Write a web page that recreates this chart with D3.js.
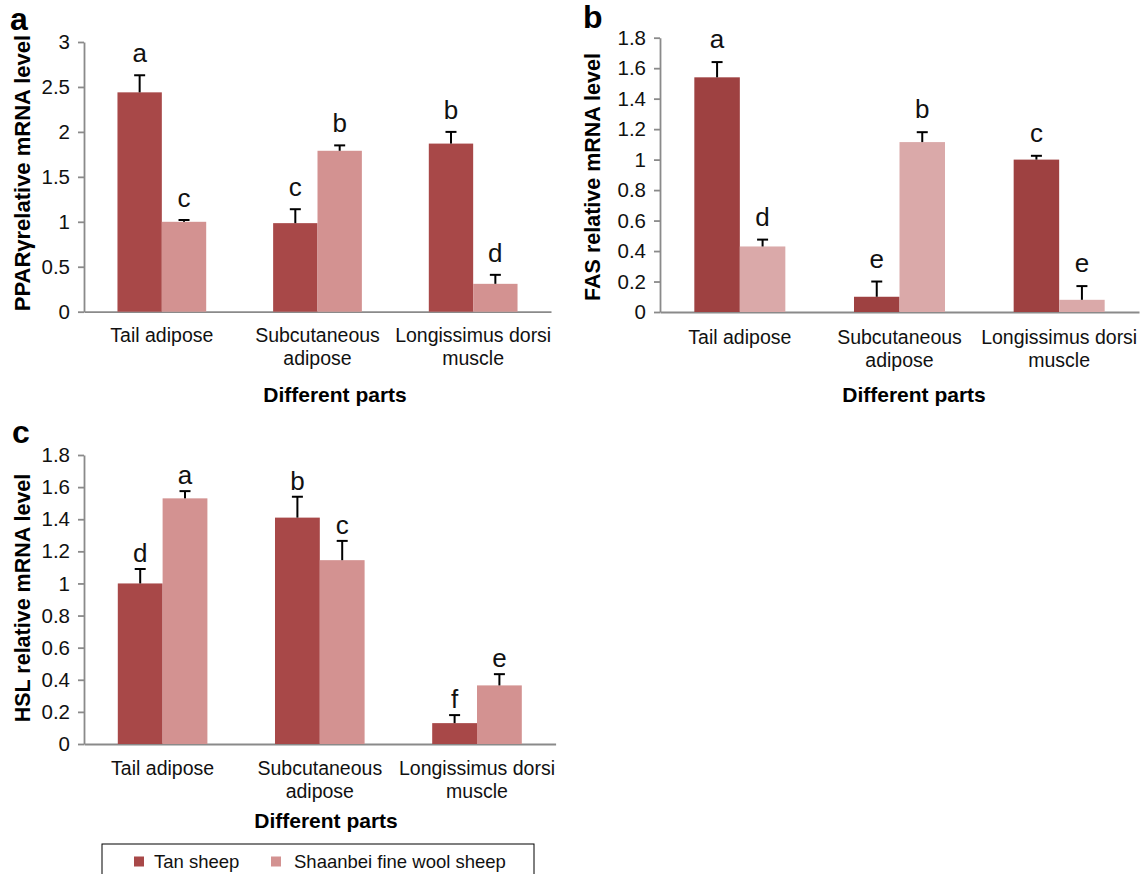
<!DOCTYPE html>
<html>
<head>
<meta charset="utf-8">
<script src="https://cdn.jsdelivr.net/npm/d3@7"></script>
<style>
  body { margin: 0; background: #fff; }
  svg { display: block; font-family: "Liberation Sans", Arial, sans-serif; }
</style>
</head>
<body>
<div id="chart"></div>
<script>
// categories and series
const categories = ["Tail adipose", "Subcutaneous adipose", "Longissimus dorsi muscle"];
const categoryLines = [["Tail adipose"], ["Subcutaneous", "adipose"], ["Longissimus dorsi", "muscle"]];
const series = ["Tan sheep", "Shaanbei fine wool sheep"];

// a: PPARγ
const pparTan = [2.44, 0.985, 1.87];
const pparTanErr = [0.19, 0.155, 0.13];
const pparShaanbei = [1.0, 1.79, 0.31];
const pparShaanbeiErr = [0.02, 0.06, 0.10];
const pparTanLetters = ["a", "c", "b"];
const pparShaanbeiLetters = ["c", "b", "d"];
const pparTicks = [0, 0.5, 1, 1.5, 2, 2.5, 3];

// b: FAS
const fasTan = [1.54, 0.10, 1.0];
const fasTanErr = [0.10, 0.10, 0.025];
const fasShaanbei = [0.43, 1.115, 0.08];
const fasShaanbeiErr = [0.045, 0.065, 0.09];
const fasTanLetters = ["a", "e", "c"];
const fasShaanbeiLetters = ["d", "b", "e"];
const fasTicks = [0, 0.2, 0.4, 0.6, 0.8, 1, 1.2, 1.4, 1.6, 1.8];

// c: HSL
const hslTan = [1.0, 1.41, 0.13];
const hslTanErr = [0.09, 0.13, 0.05];
const hslShaanbei = [1.53, 1.145, 0.365];
const hslShaanbeiErr = [0.045, 0.12, 0.07];
const hslTanLetters = ["d", "b", "f"];
const hslShaanbeiLetters = ["a", "c", "e"];
const hslTicks = [0, 0.2, 0.4, 0.6, 0.8, 1, 1.2, 1.4, 1.6, 1.8];

const width = 1142, height = 874;
const svg = d3.select("#chart").append("svg")
  .attr("width", width)
  .attr("height", height);

function drawPanel(p) {
  const g = svg.append("g");

  const x = d3.scaleBand()
    .domain(categories)
    .range([p.x0, p.x1])
    .paddingInner(0.43)
    .paddingOuter(0.215);
  const xs = d3.scaleBand()
    .domain(series)
    .range([0, x.bandwidth()]);
  const y = d3.scaleLinear()
    .domain([0, d3.max(p.ticks)])
    .range([p.yBot, p.yTop]);

  // y axis
  const yAxis = g.append("g")
    .attr("transform", "translate(" + p.x0 + ",0)")
    .call(d3.axisLeft(y).tickValues(p.ticks).tickSize(6).tickSizeOuter(0)
      .tickPadding(8).tickFormat(d3.format("~g")));
  yAxis.select(".domain").attr("stroke", "#8a8a8a").attr("stroke-width", 1.8);
  yAxis.selectAll(".tick line").attr("stroke", "#8a8a8a").attr("stroke-width", 1.8);
  yAxis.selectAll(".tick text").attr("font-size", 20.5).attr("fill", "#111")
    .attr("font-family", "Liberation Sans, Arial, sans-serif");

  // x axis
  const xAxis = g.append("g")
    .attr("transform", "translate(0," + p.yBot + ")")
    .call(d3.axisBottom(x).tickSize(0).tickSizeOuter(0).tickFormat(""));
  xAxis.select(".domain").attr("stroke", "#8a8a8a").attr("stroke-width", 1.8);
  xAxis.selectAll(".tick text").remove();
  xAxis.selectAll(".tick").each(function(d, i) {
    const t = d3.select(this).append("text")
      .attr("fill", "#111")
      .attr("font-size", 19.5)
      .attr("text-anchor", "middle")
      .attr("font-family", "Liberation Sans, Arial, sans-serif");
    categoryLines[i].forEach((line, k) => {
      t.append("tspan").attr("x", 0).attr("y", p.catY + k * 23).text(line);
    });
  });

  // x title
  g.append("text")
    .attr("x", p.xTitleX)
    .attr("y", p.xTitleY)
    .attr("text-anchor", "middle")
    .attr("font-size", 21)
    .attr("font-weight", "bold")
    .text("Different parts");

  // y title
  g.append("text")
    .attr("transform", "translate(" + p.yTitleX + "," + p.yTitleY + ") rotate(-90)")
    .attr("text-anchor", "middle")
    .attr("font-size", p.yTitleSize)
    .attr("font-weight", "bold")
    .text(p.yTitle);

  // panel letter
  g.append("text")
    .attr("x", p.labelX)
    .attr("y", p.labelY)
    .attr("font-size", 32)
    .attr("font-weight", "bold")
    .text(p.label);

  const rows = [];
  categories.forEach((c, i) => {
    rows.push({ cat: c, s: series[0], v: p.tan[i], e: p.tanErr[i], l: p.tanLetters[i], fill: p.colors[0] });
    rows.push({ cat: c, s: series[1], v: p.sh[i], e: p.shErr[i], l: p.shLetters[i], fill: p.colors[1] });
  });

  g.selectAll(".bar")
    .data(rows)
    .enter()
    .append("rect")
    .attr("x", d => x(d.cat) + xs(d.s))
    .attr("y", d => y(d.v))
    .attr("width", xs.bandwidth())
    .attr("height", d => p.yBot - y(d.v))
    .attr("fill", d => d.fill);

  // error bars (upper only)
  const cx = d => x(d.cat) + xs(d.s) + xs.bandwidth() / 2;
  const eb = g.selectAll(".err").data(rows).enter().append("g");
  eb.append("line")
    .attr("x1", cx).attr("x2", cx)
    .attr("y1", d => y(d.v)).attr("y2", d => y(d.v + d.e))
    .attr("stroke", "#000").attr("stroke-width", 2);
  eb.append("line")
    .attr("x1", d => cx(d) - 5.5).attr("x2", d => cx(d) + 5.5)
    .attr("y1", d => y(d.v + d.e)).attr("y2", d => y(d.v + d.e))
    .attr("stroke", "#000").attr("stroke-width", 2);

  // significance letters
  g.selectAll(".sig").data(rows).enter().append("text")
    .attr("x", cx)
    .attr("y", d => y(d.v + d.e) - p.letterGap)
    .attr("text-anchor", "middle")
    .attr("font-size", 26)
    .attr("fill", "#111")
    .text(d => d.l);
}

drawPanel({
  label: "a", labelX: 10, labelY: 30,
  x0: 84, x1: 551, yTop: 42, yBot: 311.7,
  ticks: pparTicks, yTitle: "PPARγrelative mRNA level", yTitleX: 30, yTitleY: 173, yTitleSize: 22,
  tan: pparTan, tanErr: pparTanErr, sh: pparShaanbei, shErr: pparShaanbeiErr,
  tanLetters: pparTanLetters, shLetters: pparShaanbeiLetters,
  colors: ["#A84848", "#D39291"], letterGap: 13,
  catY: 30, xTitleX: 335, xTitleY: 402
});

drawPanel({
  label: "b", labelX: 583, labelY: 28,
  x0: 660, x1: 1139, yTop: 37.7, yBot: 312,
  ticks: fasTicks, yTitle: "FAS relative mRNA level", yTitleX: 600, yTitleY: 177, yTitleSize: 21.5,
  tan: fasTan, tanErr: fasTanErr, sh: fasShaanbei, shErr: fasShaanbeiErr,
  tanLetters: fasTanLetters, shLetters: fasShaanbeiLetters,
  colors: ["#9E4141", "#DAA9A9"], letterGap: 14,
  catY: 32, xTitleX: 914, xTitleY: 402
});

drawPanel({
  label: "c", labelX: 12, labelY: 443,
  x0: 84, x1: 555.6, yTop: 455, yBot: 744,
  ticks: hslTicks, yTitle: "HSL relative mRNA level", yTitleX: 30, yTitleY: 598, yTitleSize: 21.5,
  tan: hslTan, tanErr: hslTanErr, sh: hslShaanbei, shErr: hslShaanbeiErr,
  tanLetters: hslTanLetters, shLetters: hslShaanbeiLetters,
  colors: ["#A84848", "#D39291"], letterGap: 7,
  catY: 31, xTitleX: 326, xTitleY: 828
});

// legend
const legendColors = ["#A84848", "#D39291"];
const legend = svg.append("g");
legend.append("rect")
  .attr("x", 102).attr("y", 844).attr("width", 432).attr("height", 44)
  .attr("fill", "none").attr("stroke", "#000").attr("stroke-width", 1);
const legendX = [134, 271];
const legendTextX = [154, 294];
series.forEach((s, i) => {
  legend.append("rect")
    .attr("x", legendX[i]).attr("y", 856.5).attr("width", 10).attr("height", 10)
    .attr("fill", legendColors[i]);
  legend.append("text")
    .attr("x", legendTextX[i]).attr("y", 867.5)
    .attr("font-size", 18.5).attr("fill", "#111")
    .text(s);
});
</script>
</body>
</html>
